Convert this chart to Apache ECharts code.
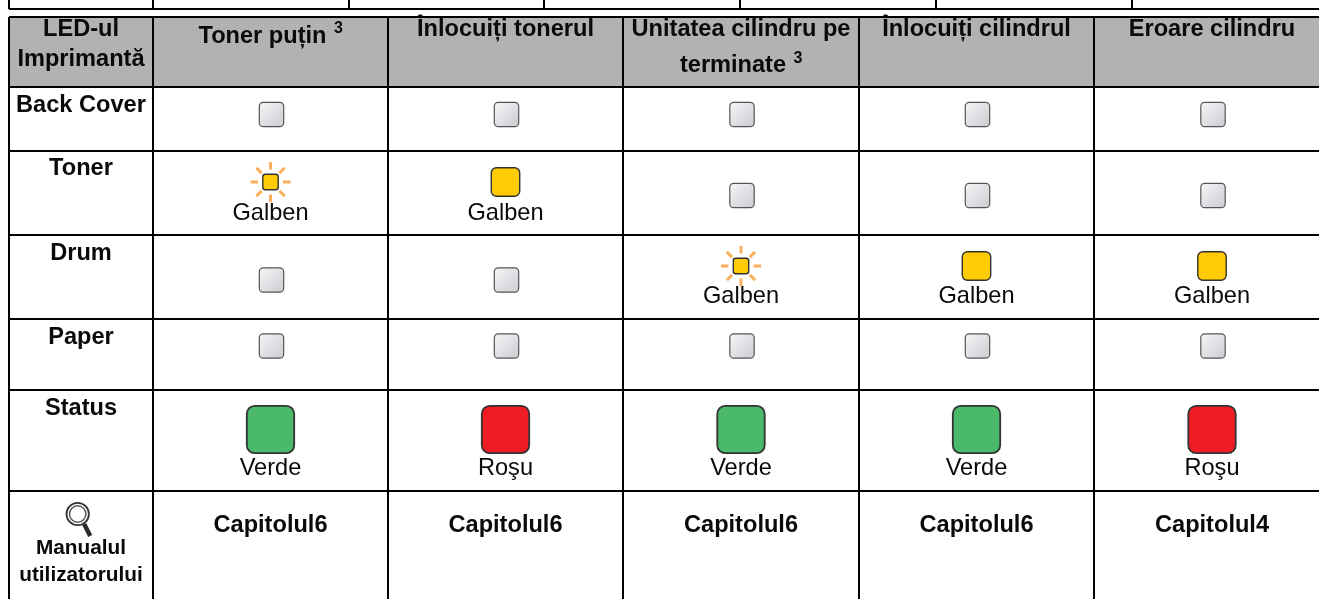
<!DOCTYPE html>
<html>
<head>
<meta charset="utf-8">
<title>LED-ul Imprimantă</title>
<style>
  html, body { margin: 0; padding: 0; background: #fff; }
  #chart { width: 1319px; height: 599px; }
</style>
<script src="https://cdn.jsdelivr.net/npm/echarts@6/dist/echarts.min.js"></script>
</head>
<body>
<div id="chart"></div>
<script>
// table content
const cornerLabel = ['LED-ul', 'Imprimantă'];
const columnLabels = [['Toner puțin'], ['Înlocuiți tonerul'], ['Unitatea cilindru pe', 'terminate'], ['Înlocuiți cilindrul'], ['Eroare cilindru']];
const columnNotes = ['3', '', '3', '', ''];
const rowLabels = ['Back Cover', 'Toner', 'Drum', 'Paper', 'Status'];
const manualLabel = ['Manualul', 'utilizatorului'];
const chapters = ['Capitolul6', 'Capitolul6', 'Capitolul6', 'Capitolul6', 'Capitolul4'];

// lamp state per row, one entry per column
const backCover = ['off', 'off', 'off', 'off', 'off'];
const toner = ['blink', 'on', 'off', 'off', 'off'];
const drum = ['off', 'off', 'blink', 'on', 'on'];
const paper = ['off', 'off', 'off', 'off', 'off'];
const status = ['on', 'on', 'on', 'on', 'on'];
const lampStates = [backCover, toner, drum, paper, status];

// colour name printed under a lit lamp
const tonerColours = ['Galben', 'Galben', '', '', ''];
const drumColours = ['', '', 'Galben', 'Galben', 'Galben'];
const statusColours = ['Verde', 'Roşu', 'Verde', 'Verde', 'Roşu'];
const lampColours = [[], tonerColours, drumColours, [], statusColours];

// layout, in page pixels, read through the hidden axes
const colEdges = [9, 153, 388, 623, 859, 1094, 1330];
const rowEdges = [17, 87, 151, 235, 319, 390, 491, 640];
const stubEdges = [9, 153, 349, 544, 740, 936, 1132, 1328];
const stubLine = 9;
const rowBaselines = [113.5, 176.5, 261.5, 345.5, 417];
const offCentres = [114.5, 195.5, 280, 346, 0];
const litCentres = [0, 182, 266, 0, 429.5];
const nameBaselines = [0, 221.7, 305, 0, 476.5];

const FONT = '"Liberation Sans", Arial, sans-serif';
const BIG = 23.6;
const colours = { Galben: '#ffcb05', Verde: '#4ab96a', 'Roşu': '#ee1c25' };

function centre(c) {
  return (colEdges[c + 1] + colEdges[c]) / 2;
}

// horizontal and vertical rules as [x1, y1, x2, y2]
const rules = [];
rowEdges.slice(0, -1).forEach(y => rules.push([colEdges[0], y, colEdges[6], y]));
colEdges.forEach(x => rules.push([x, rowEdges[0], x, rowEdges[7]]));
rules.push([stubEdges[0], stubLine, stubEdges[7], stubLine]);
stubEdges.forEach(x => rules.push([x, 0, x, stubLine]));

const headerCells = colEdges.slice(0, -1).map((x, i) => [x, rowEdges[0], colEdges[i + 1], rowEdges[1]]);

// every text as [text, x, baseline, size, weight]
const texts = [];
texts.push([cornerLabel[0], 81, 38, BIG, 'bold']);
texts.push([cornerLabel[1], 81, 68, BIG, 'bold']);
texts.push([columnLabels[0][0], 262.5, 45, BIG, 'bold']);
texts.push([columnNotes[0], 338.5, 34.3, 16, 'bold']);
texts.push([columnLabels[1][0], 505.5, 37.7, BIG, 'bold']);
texts.push([columnLabels[2][0], 741, 38, BIG, 'bold']);
texts.push([columnLabels[2][1], 733, 73.3, BIG, 'bold']);
texts.push([columnNotes[2], 798, 64.3, 16, 'bold']);
texts.push([columnLabels[3][0], 976.5, 38, BIG, 'bold']);
texts.push([columnLabels[4][0], 1212, 38, BIG, 'bold']);
rowLabels.forEach((name, r) => texts.push([name, 81, rowBaselines[r], BIG, 'bold']));
texts.push([manualLabel[0], 81, 556, 20.8, 'bold']);
texts.push([manualLabel[1], 81, 582.7, 20.8, 'bold']);
chapters.forEach((name, c) => texts.push([name, centre(c + 1), 533.3, BIG, 'bold']));
lampColours.forEach((row, r) => row.forEach((name, c) => {
  if (name) texts.push([name, centre(c + 1), nameBaselines[r], BIG, 'normal']);
}));

// lamps as [x, y, column, row]
const lamps = [];
lampStates.forEach((row, r) => row.forEach((state, c) => {
  lamps.push([centre(c + 1) + (state === 'off' ? 1 : 0), state === 'off' ? offCentres[r] : litCentres[r], c, r]);
}));

function lampRect(p, half, radius, fill, stroke, lineWidth) {
  return {
    type: 'rect',
    shape: { x: p[0] - half, y: p[1] - half, width: half * 2, height: half * 2, r: radius },
    style: { fill: fill, stroke: stroke, lineWidth: lineWidth }
  };
}

function renderLamp(params, api) {
  const p = api.coord([api.value(0), api.value(1)]);
  const c = api.value(2);
  const r = api.value(3);
  const state = lampStates[r][c];
  if (state === 'off') {
    const grey = new echarts.graphic.LinearGradient(0, 0, 1, 1, [
      { offset: 0, color: '#f6f7f8' },
      { offset: 1, color: '#c9cbd0' }
    ]);
    return lampRect(p, 12.2, 4, grey, '#555555', 1.2);
  }
  const fill = colours[lampColours[r][c]];
  if (state === 'on' && r === 4) return lampRect(p, 23.7, 8, fill, '#333333', 1.8);
  if (state === 'on') return lampRect(p, 14.2, 5, fill, '#333333', 1.4);
  const children = [];
  for (let i = 0; i < 8; i++) {
    const a = i * Math.PI / 4;
    children.push({
      type: 'line',
      shape: {
        x1: p[0] + Math.cos(a) * 12.5, y1: p[1] + Math.sin(a) * 12.5,
        x2: p[0] + Math.cos(a) * 20, y2: p[1] + Math.sin(a) * 20
      },
      style: { stroke: '#fbb05e', lineWidth: 3 }
    });
  }
  children.push(lampRect(p, 7.7, 2.5, fill, '#333333', 1.4));
  return { type: 'group', children: children };
}

// magnifier above the manual label
function renderLens(params, api) {
  const p = api.coord([api.value(0), api.value(1)]);
  return {
    type: 'group',
    children: [
      { type: 'line', shape: { x1: p[0] + 6.5, y1: p[1] + 10, x2: p[0] + 12.5, y2: p[1] + 22 }, style: { stroke: '#2a2a2a', lineWidth: 4.5 } },
      { type: 'circle', shape: { cx: p[0], cy: p[1], r: 11.2 }, style: { fill: '#fff', stroke: '#333', lineWidth: 1.8 } },
      { type: 'circle', shape: { cx: p[0], cy: p[1], r: 8.2 }, style: { fill: '#fff', stroke: '#555', lineWidth: 1.5 } }
    ]
  };
}

const option = {
  animation: false,
  backgroundColor: '#ffffff',
  grid: { left: 0, right: 0, top: 0, bottom: 0 },
  xAxis: { type: 'value', min: 0, max: 1319, show: false },
  yAxis: { type: 'value', min: 0, max: 599, inverse: true, show: false },
  series: [
    {
      type: 'custom',
      silent: true,
      clip: true,
      data: headerCells,
      encode: { x: [0, 2], y: [1, 3] },
      renderItem: (params, api) => {
        const a = api.coord([api.value(0), api.value(1)]);
        const b = api.coord([api.value(2), api.value(3)]);
        return {
          type: 'rect',
          shape: { x: a[0], y: a[1], width: b[0] - a[0], height: b[1] - a[1] },
          style: { fill: '#b2b2b2' }
        };
      }
    },
    {
      type: 'custom',
      silent: true,
      clip: true,
      data: rules,
      encode: { x: [0, 2], y: [1, 3] },
      renderItem: (params, api) => {
        const a = api.coord([api.value(0), api.value(1)]);
        const b = api.coord([api.value(2), api.value(3)]);
        return {
          type: 'line',
          shape: { x1: a[0], y1: a[1], x2: b[0], y2: b[1] },
          style: { stroke: '#000000', lineWidth: 2 }
        };
      }
    },
    {
      type: 'custom',
      silent: true,
      data: lamps,
      encode: { x: 0, y: 1 },
      renderItem: renderLamp
    },
    {
      type: 'custom',
      silent: true,
      data: [[77.7, 514]],
      encode: { x: 0, y: 1 },
      renderItem: renderLens
    },
    {
      type: 'custom',
      silent: true,
      data: texts.map((t, i) => [t[1], t[2], i]),
      encode: { x: 0, y: 1 },
      renderItem: (params, api) => {
        const t = texts[api.value(2)];
        const p = api.coord([api.value(0), api.value(1)]);
        return {
          type: 'text',
          x: p[0],
          y: p[1] - t[3] * 0.35,
          style: {
            text: t[0],
            fill: '#0a0a0a',
            font: t[4] + ' ' + t[3] + 'px ' + FONT,
            textAlign: 'center',
            textVerticalAlign: 'middle'
          }
        };
      }
    }
  ]
};

const chart = echarts.init(document.getElementById('chart'), null, { renderer: 'canvas' });
chart.setOption(option);
</script>
</body>
</html>
